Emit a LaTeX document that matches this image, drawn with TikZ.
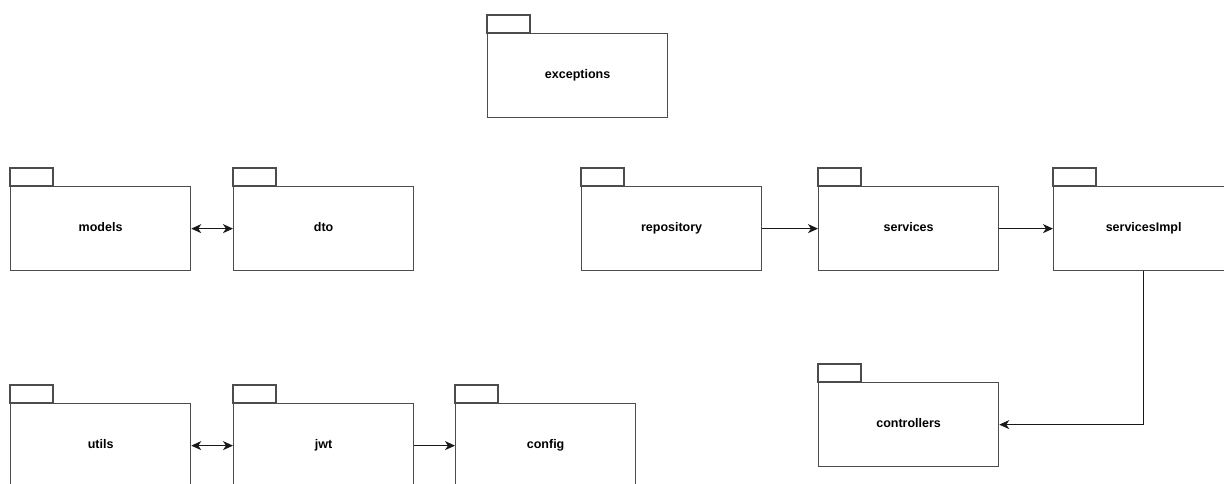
\documentclass[tikz,border=0pt]{standalone}
\usepackage{fontspec}
\setmainfont{Liberation Sans}
\usetikzlibrary{arrows.meta}
\tikzset{
  pkgbody/.style={draw=black!70, line width=1.25pt, fill=white, minimum width=180pt, minimum height=84pt, inner sep=0pt, text height=9pt, text depth=3pt, font=\bfseries\fontsize{12.5}{14}\selectfont},
  pkgtab/.style={draw=black!70, line width=1.25pt, fill=white},
  tip/.tip={Stealth[length=10pt,width=9pt,inset=3pt]},
  conn/.style={draw=black!90, line width=1.3pt, -tip},
  bconn/.style={draw=black!90, line width=1.3pt, tip-tip}
}
\newcommand{\pk}[4]{%
  \draw[pkgtab] (#2,#3-18) rectangle (#2+43,#3);
  \node[pkgbody, anchor=north west] (#1) at (#2,#3) {#4};
}
\begin{document}
\begin{tikzpicture}[x=1pt,y=-1pt]
\useasboundingbox (0,0) rectangle (1224,483);
\clip (0,0) rectangle (1224,483);
\fill[white] (0,0) rectangle (1224,483);
\pk{exceptions}{487}{33}{exceptions}
\pk{models}{10}{186}{models}
\pk{dto}{233}{186}{dto}
\pk{repository}{581}{186}{repository}
\pk{services}{818}{186}{services}
\pk{servicesImpl}{1053}{186}{servicesImpl}
\pk{utils}{10}{403}{utils}
\pk{jwt}{233}{403}{jwt}
\pk{config}{455}{403}{config}
\pk{controllers}{818}{382}{controllers}
% connectors
\draw[bconn] (models.east) -- (dto.west);
\draw[conn] (repository.east) -- (services.west);
\draw[conn] (services.east) -- (servicesImpl.west);
\draw[conn] (servicesImpl.south) |- (controllers.east);
\draw[bconn] (utils.east) -- (jwt.west);
\draw[conn] (jwt.east) -- (config.west);
\end{tikzpicture}
\end{document}
